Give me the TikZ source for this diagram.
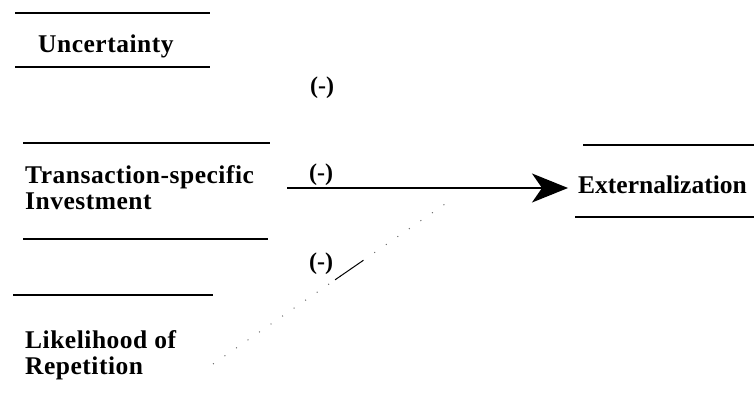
\documentclass[tikz,border=0pt]{standalone}
\usepackage{fontspec}
\setmainfont{Liberation Serif}
\newfontfamily\spacedserif{Liberation Serif}[LetterSpace=2]
\usetikzlibrary{arrows.meta,calc}
\begin{document}
\begin{tikzpicture}[x=1pt,y=-1pt,
  lbl/.style={font=\spacedserif\fontsize{25.5}{26}\selectfont\bfseries, inner sep=0pt, align=left},
  extlbl/.style={font=\fontsize{25.5}{26}\selectfont\bfseries, inner sep=0pt},
  sgn/.style={font=\fontsize{24}{26}\selectfont\bfseries, inner sep=0pt},
  rule/.style={line width=1.6pt},
  arr/.style={line width=1.4pt, -{Stealth[length=36pt,width=29pt,inset=10pt]}},
  dotline/.style={line width=1pt, black!60, dash pattern=on 1pt off 13pt},
  seg/.style={line width=1pt}]
\useasboundingbox (0,0) rectangle (754,403);
% Uncertainty
\draw[rule] (15,13) -- (210,13);
\node[lbl, anchor=base west] (unc) at (38,53) {Uncertainty};
\draw[rule] (15,67) -- (210,67);
% Transaction-specific Investment
\draw[rule] (23,143) -- (270,143);
\node[lbl, anchor=west] (tsi) at (25,188) {Transaction-specific\\Investment};
\draw[rule] (23,239) -- (268,239);
% Likelihood of Repetition
\draw[rule] (13,295) -- (213,295);
\node[lbl, anchor=west] (lr) at (25,355) {Likelihood of\\Repetition};
% Externalization
\draw[rule] (583,145) -- (754,145);
\node[extlbl, anchor=west] (ext) at (578,185) {Externalization};
\draw[rule] (575,217) -- (754,217);
% signs
\node[sgn] (s1) at (322,88) {(-)};
\node[sgn] (s2) at (321,175) {(-)};
\node[sgn] (s3) at (321,264) {(-)};
% main arrow
\coordinate (tsi-out) at (287,188);
\draw[arr, shorten >=10pt] (tsi-out) -- (tsi-out -| ext.west);
% faint connector from Likelihood of Repetition
\coordinate (lr-out) at (213,364);
\coordinate (dot-end) at (445,204);
\draw[dotline] (lr-out) -- (dot-end);
\draw[seg] ($(lr-out)!0.526!(dot-end)$) -- ($(lr-out)!0.647!(dot-end)$);
\end{tikzpicture}
\end{document}
